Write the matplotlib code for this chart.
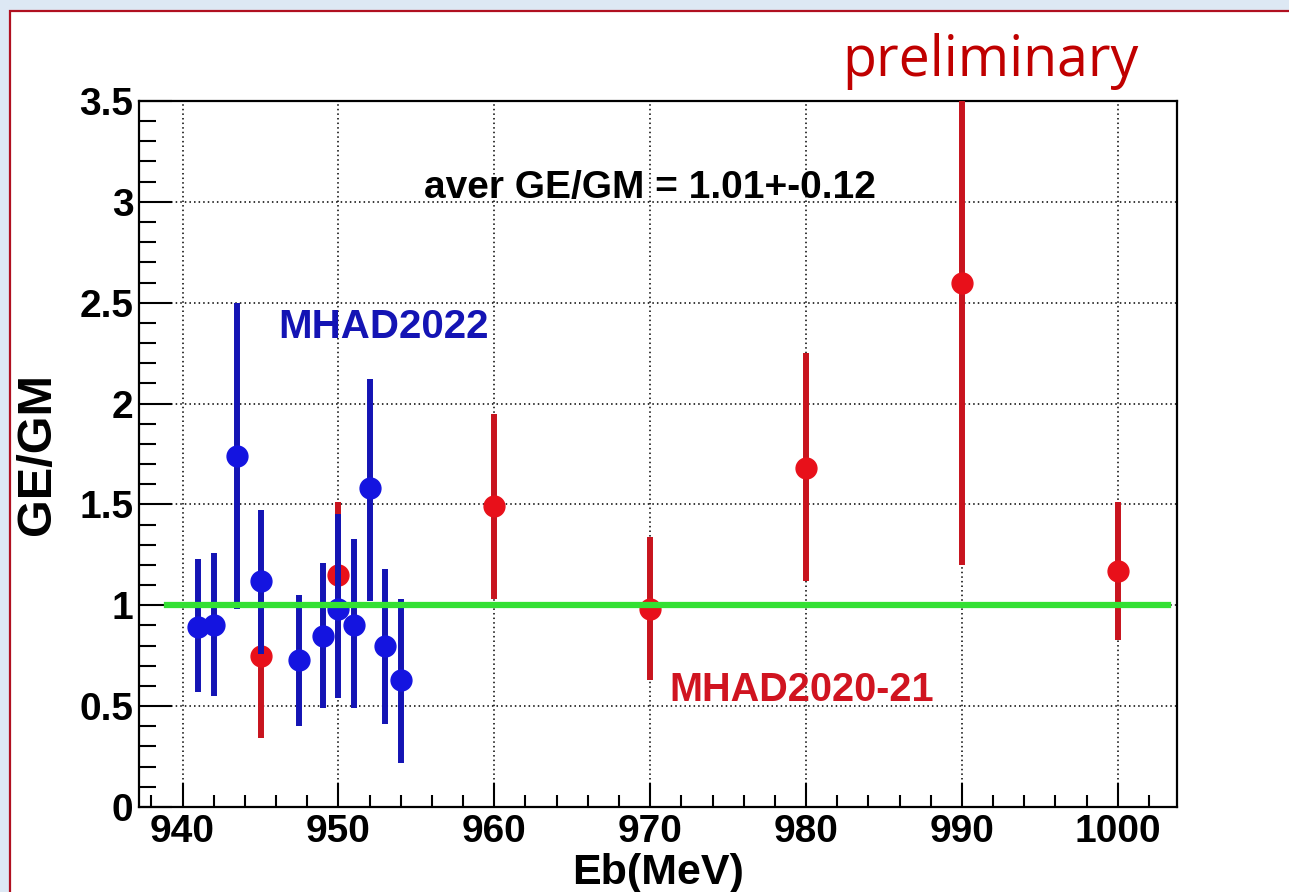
import matplotlib
matplotlib.use("Agg")
import matplotlib.pyplot as plt
from matplotlib.patches import Rectangle
from matplotlib.ticker import MultipleLocator
import numpy as np

# MHAD2022 (blue)
eb_2022 = [941, 942, 943.5, 945, 947.5, 949, 950, 951, 952, 953, 954]
r_2022 = [0.89, 0.90, 1.74, 1.12, 0.73, 0.85, 0.98, 0.90, 1.58, 0.80, 0.63]
lo_2022 = [0.57, 0.55, 0.98, 0.76, 0.40, 0.49, 0.54, 0.49, 1.02, 0.41, 0.22]
hi_2022 = [1.23, 1.26, 2.50, 1.47, 1.05, 1.21, 1.45, 1.33, 2.12, 1.18, 1.03]

# MHAD2020-21 (red)
eb_2021 = [945, 950, 960, 970, 980, 990, 1000]
r_2021 = [0.75, 1.15, 1.49, 0.98, 1.68, 2.60, 1.17]
lo_2021 = [0.34, 0.79, 1.03, 0.63, 1.12, 1.20, 0.83]
hi_2021 = [1.16, 1.51, 1.95, 1.34, 2.25, 4.00, 1.51]

aver = 1.0
aver_range = [939, 1003.2]

fig = plt.figure(figsize=(12.89, 8.92), dpi=100)
fig.patch.set_facecolor("#dde8f4")
# white slide panel with red frame
fig.patches.append(Rectangle((10/1289, -0.1), 1.2, (892-11)/892 + 0.1,
                             transform=fig.transFigure, facecolor="white",
                             edgecolor="#b01020", linewidth=1.6, zorder=-5))

ax = fig.add_axes([0.1078, 0.0953, 0.8053, 0.7915])
ax.set_zorder(2)
ax.set_xlim(937.2, 1003.8)
ax.set_ylim(0, 3.5)

def draw(x, y, lo, hi, col, mcol, z):
    y = np.array(y)
    err = [y - np.array(lo), np.array(hi) - y]
    ax.errorbar(x, y, yerr=err, fmt="o", color=mcol, ecolor=col,
                elinewidth=4.3, markersize=15, capsize=0, zorder=z)

draw(eb_2021, r_2021, lo_2021, hi_2021, "#c8141e", "#e8101a", 3)
draw(eb_2022, r_2022, lo_2022, hi_2022, "#1414b4", "#1414e0", 4)

ax.plot(aver_range, [aver, aver], color="#33e033", linewidth=4.5, zorder=5)

ax.xaxis.set_major_locator(MultipleLocator(10))
ax.xaxis.set_minor_locator(MultipleLocator(2))
ax.yaxis.set_major_locator(MultipleLocator(0.5))
ax.yaxis.set_minor_locator(MultipleLocator(0.1))
ax.yaxis.set_major_formatter(plt.FuncFormatter(lambda v, p: f"{v:g}"))
ax.grid(True, which="major", color="black", linestyle=(0, (1, 2)), linewidth=1.1)
ax.tick_params(axis="both", which="both", direction="in", top=False, right=False,
               width=1.5, labelsize=28)
ax.tick_params(axis="x", which="major", length=17, pad=5)
ax.tick_params(axis="x", which="minor", length=9)
ax.tick_params(axis="y", which="major", length=24, pad=4)
ax.tick_params(axis="y", which="minor", length=12)
for lab in ax.get_xticklabels() + ax.get_yticklabels():
    lab.set_fontweight("bold")
    lab.set_family("Liberation Sans")
for s in ax.spines.values():
    s.set_linewidth(1.6)

ax.set_xlabel("Eb(MeV)", fontsize=31, fontweight="bold", family="Liberation Sans",
              labelpad=2)
ax.set_ylabel("GE/GM", fontsize=35, fontweight="bold", family="Liberation Sans",
              labelpad=14)

ax.text(970, 3.07, "aver GE/GM = 1.01+-0.12", fontsize=28, fontweight="bold",
        family="Liberation Sans", ha="center", va="center")
ax.text(952.9, 2.38, "MHAD2022", fontsize=29, fontweight="bold", color="#1414b4",
        family="Liberation Sans", ha="center", va="center")
ax.text(979.7, 0.58, "MHAD2020-21", fontsize=28.5, fontweight="bold", color="#d01420",
        family="Liberation Sans", ha="center", va="center")

fig.text(990/1289, 1 - 62/892, "preliminary", fontsize=40, color="#c00000",
         family="Open Sans", ha="center", va="center")

fig.savefig("out.png", dpi=100, facecolor=fig.get_facecolor())
